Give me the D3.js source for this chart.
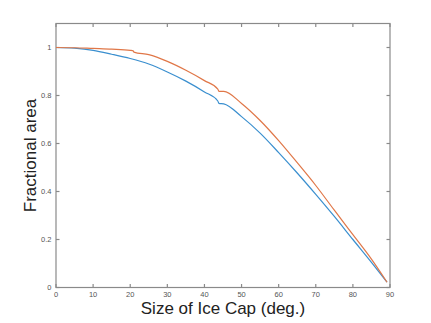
<!DOCTYPE html>
<html>
<head>
<meta charset="utf-8">
<script src="https://cdn.jsdelivr.net/npm/d3@7"></script>
<style>
  body { margin: 0; background: #fff; }
  svg { display: block; }
</style>
</head>
<body>
<svg id="chart" width="431" height="323"></svg>
<script>
// values
var capDeg = [0, 5, 10, 15, 20, 20.8, 21.0, 25, 30, 35, 40, 43.6, 43.9, 45.2, 50, 55, 60, 65, 70, 75, 80, 85, 89.2];
var blueDeg = [0, 5, 10, 15, 20, 25, 30, 35, 40, 43.6, 43.9, 45.2, 50, 55, 60, 65, 70, 75, 80, 85, 89.2];
var blueArea = [1, 0.997, 0.988, 0.972, 0.954, 0.931, 0.898, 0.860, 0.815, 0.777, 0.767, 0.765, 0.712, 0.643, 0.562, 0.477, 0.388, 0.296, 0.200, 0.105, 0.022];
var orangeArea = [1, 0.999, 0.996, 0.993, 0.988, 0.986, 0.981, 0.970, 0.942, 0.905, 0.862, 0.827, 0.817, 0.817, 0.767, 0.696, 0.612, 0.520, 0.425, 0.322, 0.220, 0.118, 0.022];
var xTicks = [0, 10, 20, 30, 40, 50, 60, 70, 80, 90];
var yTicks = [0, 0.2, 0.4, 0.6, 0.8, 1];

var svg = d3.select("#chart");
var plotL = 56, plotR = 390, plotT = 23.5, plotB = 287.5;

var x = d3.scaleLinear().domain([0, 90]).range([plotL, plotR]);
var y = d3.scaleLinear().domain([0, 1.1]).range([plotB, plotT]);

var boxColor = "#8a8a8a";

// tick marks on all four sides, pointing inward
var g = svg.append("g");
g.selectAll(".xb").data(xTicks).enter().append("line")
  .attr("x1", d => x(d)).attr("x2", d => x(d))
  .attr("y1", plotB).attr("y2", plotB - 3.5)
  .attr("stroke", boxColor).attr("stroke-width", 1.2);
g.selectAll(".xt").data(xTicks).enter().append("line")
  .attr("x1", d => x(d)).attr("x2", d => x(d))
  .attr("y1", plotT).attr("y2", plotT + 3.5)
  .attr("stroke", boxColor).attr("stroke-width", 1.2);
g.selectAll(".yl").data(yTicks).enter().append("line")
  .attr("x1", plotL).attr("x2", plotL + 3.5)
  .attr("y1", d => y(d)).attr("y2", d => y(d))
  .attr("stroke", boxColor).attr("stroke-width", 1.2);
g.selectAll(".yr").data(yTicks).enter().append("line")
  .attr("x1", plotR).attr("x2", plotR - 3.5)
  .attr("y1", d => y(d)).attr("y2", d => y(d))
  .attr("stroke", boxColor).attr("stroke-width", 1.2);

g.append("rect")
  .attr("x", plotL).attr("y", plotT)
  .attr("width", plotR - plotL).attr("height", plotB - plotT)
  .attr("fill", "none").attr("stroke", boxColor).attr("stroke-width", 1.2);

// tick labels
g.selectAll(".xlab").data(xTicks).enter().append("text")
  .attr("x", d => x(d)).attr("y", plotB + 9)
  .attr("text-anchor", "middle")
  .attr("font-family", "Liberation Sans, Arial, sans-serif")
  .attr("font-size", 7.5).attr("fill", "#555")
  .text(d => d);
g.selectAll(".ylab").data(yTicks).enter().append("text")
  .attr("x", plotL - 4.5).attr("y", d => y(d) + 2.6)
  .attr("text-anchor", "end")
  .attr("font-family", "Liberation Sans, Arial, sans-serif")
  .attr("font-size", 7.5).attr("fill", "#555")
  .text(d => d);

// curves
var line = d3.line().curve(d3.curveMonotoneX).x(d => x(d[0])).y(d => y(d[1]));
svg.append("path")
  .datum(d3.zip(blueDeg, blueArea))
  .attr("d", line)
  .attr("fill", "none").attr("stroke", "#3a8fcf").attr("stroke-width", 1.2);
svg.append("path")
  .datum(d3.zip(capDeg, orangeArea))
  .attr("d", line)
  .attr("fill", "none").attr("stroke", "#e07748").attr("stroke-width", 1.2);

// axis titles
svg.append("text")
  .attr("x", (plotL + plotR) / 2).attr("y", 314)
  .attr("text-anchor", "middle")
  .attr("font-family", "Liberation Sans, Arial, sans-serif")
  .attr("font-size", 17).attr("fill", "#222")
  .text("Size of Ice Cap (deg.)");
svg.append("text")
  .attr("transform", "translate(36," + ((plotT + plotB) / 2) + ") rotate(-90)")
  .attr("text-anchor", "middle")
  .attr("font-family", "Liberation Sans, Arial, sans-serif")
  .attr("font-size", 17).attr("fill", "#222")
  .text("Fractional area");
</script>
</body>
</html>
